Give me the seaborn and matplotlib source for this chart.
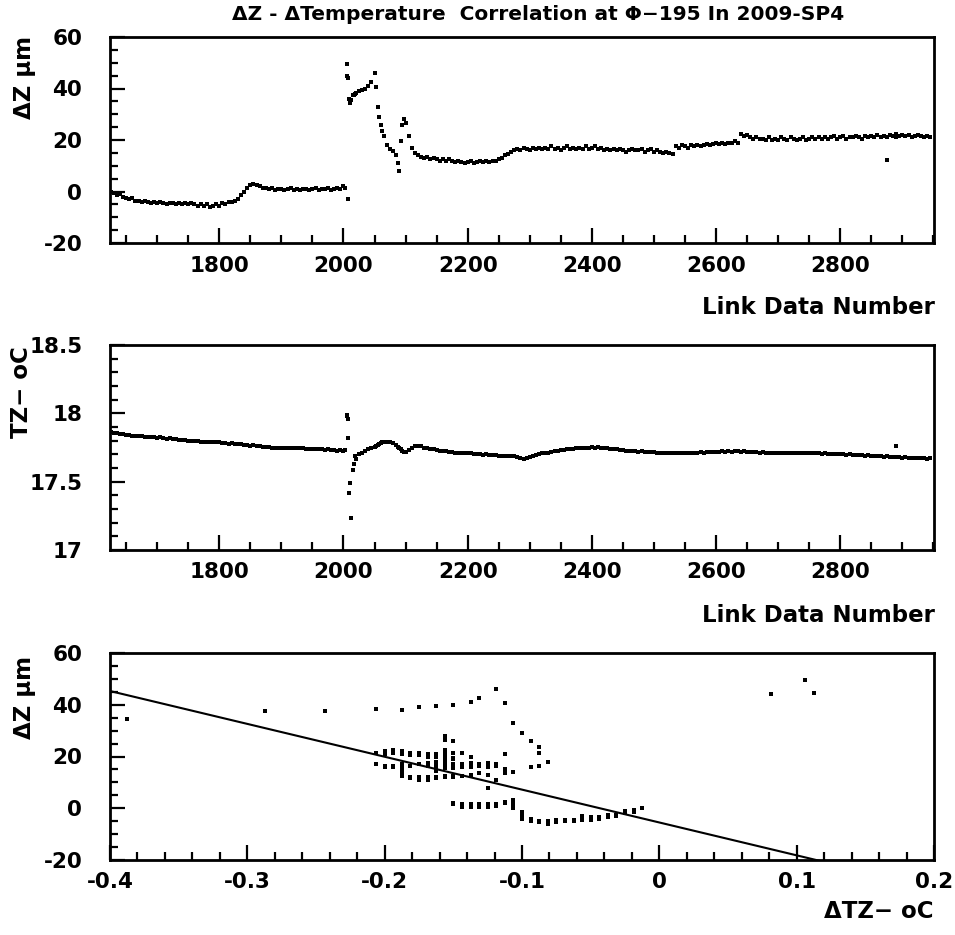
import numpy as np
import pandas as pd
import matplotlib
matplotlib.use("Agg")
import matplotlib.pyplot as plt
from matplotlib.ticker import MultipleLocator, FuncFormatter
import seaborn as sns

# Link data numbers sampled every 5 entries
link_start, link_stop, link_step = 1625, 2950, 5

# Z displacement (um) at each sampled link number
dz_um = [
    0.0, -0.5, -1.5, -1.0, -2.0, -2.5, -3.0, -2.5, -3.5, -3.5,
    -4.0, -3.5, -4.0, -4.5, -4.0, -4.5, -4.0, -4.5, -5.0, -4.5,
    -4.5, -5.0, -4.5, -5.0, -4.5, -5.0, -4.5, -5.0, -5.5, -5.0,
    -5.5, -5.0, -6.0, -5.5, -5.0, -5.5, -4.5, -5.0, -4.0, -4.0,
    -3.5, -3.0, -1.5, 0.0, 1.5, 2.5, 3.0, 2.5, 2.0, 1.5,
    1.5, 1.0, 1.5, 0.5, 1.0, 1.0, 0.5, 1.0, 1.5, 0.5,
    1.0, 0.5, 1.0, 1.0, 0.5, 1.0, 1.5, 0.5, 1.0, 1.0,
    1.5, 0.5, 1.0, 1.5, 1.0, 2.0, 49.5, 34.5, 37.4, 38.3,
    39.0, 39.5, 40.0, 41.0, 42.5, 46.0, 33.0, 26.0, 21.5, 18.0,
    16.5, 15.9, 14.0, 8.0, 26.0, 26.5, 21.5, 17.0, 15.0, 14.0,
    13.5, 13.0, 13.5, 12.5, 13.0, 12.5, 12.0, 12.5, 12.0, 12.5,
    12.0, 11.5, 12.0, 11.5, 11.0, 11.5, 12.0, 11.0, 11.5, 12.0,
    11.5, 12.0, 11.5, 12.0, 12.0, 12.5, 13.0, 14.0, 14.5, 15.5,
    16.0, 16.5, 16.0, 17.0, 16.5, 16.0, 17.0, 16.5, 17.0, 16.5,
    17.0, 16.5, 17.5, 16.5, 17.0, 16.0, 17.0, 17.5, 16.5, 17.0,
    16.5, 17.0, 16.5, 17.5, 16.5, 17.0, 17.5, 16.5, 17.0, 16.0,
    16.5, 16.0, 16.5, 16.0, 16.5, 16.0, 15.5, 16.0, 16.5, 16.0,
    16.0, 16.5, 15.5, 16.0, 16.5, 15.5, 16.0, 15.5, 15.0, 15.5,
    15.0, 14.5, 17.5, 17.0, 18.0, 17.5, 17.0, 18.0, 17.5, 18.0,
    17.5, 18.0, 18.5, 18.0, 18.5, 19.0, 18.5, 19.0, 18.5, 19.0,
    19.0, 19.5, 19.0, 22.5, 21.5, 22.0, 21.0, 20.5, 21.0, 20.5,
    20.5, 20.0, 21.0, 20.0, 20.5, 20.0, 21.0, 20.5, 20.0, 21.0,
    20.5, 20.0, 20.5, 21.0, 20.0, 20.5, 21.0, 20.5, 21.0, 20.5,
    21.0, 20.5, 21.0, 21.5, 20.5, 21.0, 21.5, 20.5, 21.0, 21.0,
    21.5, 21.0, 20.5, 21.5, 21.0, 21.5, 21.0, 22.0, 21.0, 21.5,
    21.0, 22.0, 21.5, 22.5, 21.5, 22.0, 21.5, 22.0, 21.0, 21.5,
    22.0, 21.5, 21.0, 21.5, 21.0,
]

# Sensor temperature TZ (deg C) at each sampled link number
tz_degc = [
    17.862, 17.858, 17.855, 17.850, 17.848, 17.845, 17.842, 17.838, 17.835, 17.832,
    17.830, 17.828, 17.825, 17.826, 17.822, 17.820, 17.822, 17.818, 17.815, 17.818,
    17.812, 17.810, 17.808, 17.805, 17.806, 17.802, 17.800, 17.798, 17.800, 17.795,
    17.792, 17.790, 17.792, 17.788, 17.785, 17.786, 17.782, 17.780, 17.778, 17.780,
    17.776, 17.775, 17.772, 17.770, 17.768, 17.765, 17.766, 17.762, 17.760, 17.758,
    17.756, 17.755, 17.752, 17.750, 17.752, 17.748, 17.750, 17.746, 17.745, 17.748,
    17.745, 17.742, 17.744, 17.740, 17.738, 17.740, 17.736, 17.738, 17.735, 17.733,
    17.735, 17.732, 17.730, 17.728, 17.730, 17.728, 17.980, 17.490, 17.590, 17.670,
    17.700, 17.715, 17.725, 17.735, 17.745, 17.758, 17.770, 17.780, 17.790, 17.792,
    17.788, 17.782, 17.770, 17.750, 17.725, 17.720, 17.730, 17.745, 17.760, 17.765,
    17.760, 17.752, 17.745, 17.740, 17.735, 17.730, 17.728, 17.725, 17.722, 17.720,
    17.718, 17.715, 17.712, 17.710, 17.708, 17.705, 17.705, 17.700, 17.702, 17.698,
    17.695, 17.698, 17.694, 17.692, 17.695, 17.690, 17.688, 17.685, 17.688, 17.685,
    17.685, 17.680, 17.675, 17.670, 17.672, 17.680, 17.690, 17.695, 17.700, 17.705,
    17.710, 17.715, 17.720, 17.722, 17.725, 17.730, 17.732, 17.735, 17.738, 17.740,
    17.742, 17.745, 17.748, 17.750, 17.752, 17.755, 17.752, 17.755, 17.750, 17.748,
    17.745, 17.740, 17.738, 17.735, 17.732, 17.730, 17.728, 17.725, 17.726, 17.722,
    17.720, 17.722, 17.718, 17.720, 17.716, 17.718, 17.715, 17.712, 17.715, 17.710,
    17.712, 17.710, 17.708, 17.710, 17.712, 17.710, 17.714, 17.712, 17.715, 17.713,
    17.716, 17.714, 17.718, 17.716, 17.720, 17.718, 17.720, 17.722, 17.720, 17.722,
    17.720, 17.724, 17.722, 17.720, 17.722, 17.718, 17.720, 17.716, 17.718, 17.715,
    17.716, 17.714, 17.715, 17.712, 17.714, 17.710, 17.712, 17.710, 17.712, 17.708,
    17.710, 17.708, 17.710, 17.706, 17.708, 17.705, 17.708, 17.704, 17.706, 17.702,
    17.704, 17.700, 17.702, 17.698, 17.700, 17.697, 17.700, 17.696, 17.698, 17.694,
    17.696, 17.692, 17.694, 17.690, 17.692, 17.688, 17.690, 17.686, 17.688, 17.684,
    17.686, 17.682, 17.684, 17.680, 17.682, 17.678, 17.680, 17.676, 17.678, 17.674,
    17.676, 17.672, 17.674, 17.670, 17.672,
]

# Extra readings around the transients and isolated outliers
transient_link = [2003, 2006, 2007, 2008, 2009, 2012, 2017, 2018, 2053, 2057,
                  2062, 2088, 2092, 2097, 2876, 2889]
transient_dz = [1.5, 44.7, -3.0, 44.2, 36.0, 35.5, 37.4, 38.0, 40.5, 29.0,
                23.6, 11.0, 19.7, 28.0, 12.4, 21.0]
transient_tz = [17.73, 17.99, 17.82, 17.955, 17.42, 17.23, 17.63, 17.69, 17.765, 17.775,
                17.785, 17.755, 17.74, 17.72, 17.69, 17.76]

# Temperature readout resolution and reference temperature for delta TZ
TZ_RESOLUTION = 0.00625
tz_reference = 17.875

# Linear fit dZ = p0 + p1 * dTZ
fit_p0 = -5.5
fit_p1 = -127.0

link = np.concatenate([np.arange(link_start, link_stop, link_step), transient_link])
dz = np.concatenate([dz_um, transient_dz])
tz = np.round(np.concatenate([tz_degc, transient_tz]) / TZ_RESOLUTION) * TZ_RESOLUTION
data = pd.DataFrame({"link": link, "dz": dz, "tz": tz, "dtz": tz - tz_reference})

sns.set_style("white")
plt.rcParams["font.family"] = ["DejaVu Sans"]
plt.rcParams["font.weight"] = "bold"
plt.rcParams["axes.linewidth"] = 2.0

W, H = 955, 935
fig = plt.figure(figsize=(W / 100, H / 100), dpi=100)


def panel(top, bottom, left=110, right=934):
    return fig.add_axes([left / W, 1 - bottom / H, (right - left) / W, (bottom - top) / H])


def style(ax):
    for s in ax.spines.values():
        s.set_color("black")
        s.set_linewidth(2.0)
    ax.tick_params(which="both", direction="in", bottom=True, left=True,
                   top=False, right=False, width=1.6, colors="black", labelsize=15.5)
    ax.tick_params(which="major", length=11)
    ax.tick_params(which="minor", length=5.5)
    ax.tick_params(axis="y", which="major", pad=20)
    ax.tick_params(axis="x", which="major", pad=9)
    for lab in ax.get_xticklabels() + ax.get_yticklabels():
        lab.set_fontweight("bold")
    ax.set_xlabel("")
    ax.set_ylabel("")


def fmt(v, pos):
    v = round(v, 6) + 0.0
    return f"{v:g}"


mk = dict(color="black", marker="s", s=5, linewidth=0, legend=False)

# Panel 1: dZ against link data number
ax1 = panel(37, 243)
sns.scatterplot(data=data, x="link", y="dz", ax=ax1, **mk)
ax1.set_xlim(1624, 2951)
ax1.set_ylim(-20, 60)
ax1.xaxis.set_major_locator(MultipleLocator(200))
ax1.xaxis.set_minor_locator(MultipleLocator(50))
ax1.yaxis.set_major_locator(MultipleLocator(20))
ax1.yaxis.set_minor_locator(MultipleLocator(5))
ax1.xaxis.set_major_formatter(FuncFormatter(fmt))
ax1.yaxis.set_major_formatter(FuncFormatter(fmt))
style(ax1)

# Panel 2: temperature against link data number
ax2 = panel(345, 550)
sns.scatterplot(data=data, x="link", y="tz", ax=ax2, **mk)
ax2.set_xlim(1624, 2951)
ax2.set_ylim(17, 18.5)
ax2.xaxis.set_major_locator(MultipleLocator(200))
ax2.xaxis.set_minor_locator(MultipleLocator(50))
ax2.yaxis.set_major_locator(MultipleLocator(0.5))
ax2.yaxis.set_minor_locator(MultipleLocator(0.1))
ax2.xaxis.set_major_formatter(FuncFormatter(fmt))
ax2.yaxis.set_major_formatter(FuncFormatter(fmt))
style(ax2)

# Panel 3: dZ against delta temperature with the linear fit
ax3 = panel(653, 860)
sns.scatterplot(data=data, x="dtz", y="dz", ax=ax3, **mk)
fit_x = np.array([-0.4, 0.2])
sns.lineplot(x=fit_x, y=fit_p0 + fit_p1 * fit_x, ax=ax3, color="black", linewidth=1.5)
ax3.set_xlim(-0.4, 0.2)
ax3.set_ylim(-20, 60)
ax3.xaxis.set_major_locator(MultipleLocator(0.1))
ax3.xaxis.set_minor_locator(MultipleLocator(0.02))
ax3.yaxis.set_major_locator(MultipleLocator(20))
ax3.yaxis.set_minor_locator(MultipleLocator(5))
ax3.xaxis.set_major_formatter(FuncFormatter(fmt))
ax3.yaxis.set_major_formatter(FuncFormatter(fmt))
style(ax3)

txt = dict(fontweight="bold", color="black")
fig.text(538 / W, 1 - 14 / H, "ΔZ - ΔTemperature  Correlation at Φ−195 In 2009-SP4",
         ha="center", va="center", fontsize=14.5, **txt)
fig.text(935 / W, 1 - 307 / H, "Link Data Number", ha="right", va="center", fontsize=16.5, **txt)
fig.text(935 / W, 1 - 615 / H, "Link Data Number", ha="right", va="center", fontsize=16.5, **txt)
fig.text(933 / W, 1 - 912 / H, "ΔTZ− oC", ha="right", va="center", fontsize=16.5, **txt)
fig.text(24 / W, 1 - 36 / H, "ΔZ μm", rotation=90, ha="center", va="top", fontsize=16.5, **txt)
fig.text(22 / W, 1 - 346 / H, "TZ− oC", rotation=90, ha="center", va="top", fontsize=16.5, **txt)
fig.text(24 / W, 1 - 656 / H, "ΔZ μm", rotation=90, ha="center", va="top", fontsize=16.5, **txt)

fig.savefig("out.png", dpi=100, facecolor="white")
